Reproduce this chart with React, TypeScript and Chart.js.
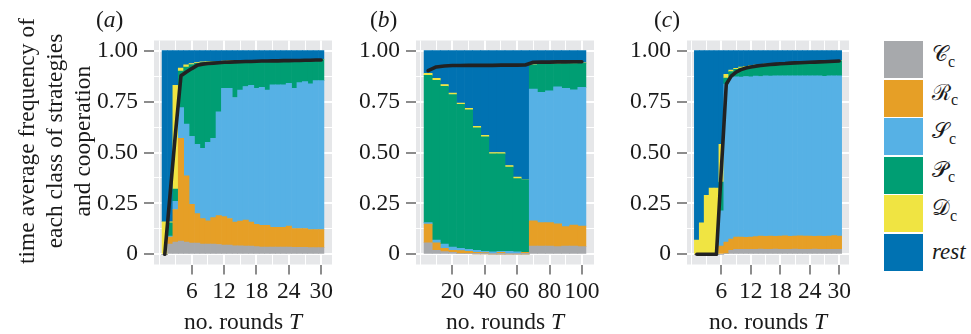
import React, { useEffect, useRef } from "react";
import { Chart, registerables } from "chart.js";

Chart.register(...registerables);

const SERIF = "'Liberation Serif', 'Times New Roman', Times, serif";

// ---------------- data ----------------
// series order (bottom -> top): C_c, R_c, S_c, P_c, D_c, rest
const SERIES_NAMES = ["Cc", "Rc", "Sc", "Pc", "Dc", "rest"];
const SERIES_COLORS = ["#A7A9AC", "#E69F26", "#56B1E5", "#009E73", "#F0E442", "#0072B2"];

// y axis ticks
const Y_TICKS = [0, 0.25, 0.5, 0.75, 1];
const Y_TICK_LABELS = ["0", "0.25", "0.50", "0.75", "1.00"];
const Y_MINOR = [0.125, 0.375, 0.625, 0.875];

// ---- panel (a) ----
const roundsA = [1, 2, 3, 4, 5, 6, 7, 8, 9, 10, 11, 12, 13, 14, 15, 16, 17, 18, 19, 20, 21, 22, 23, 24, 25, 26, 27, 28, 29, 30];
const cA = [0, 0.05, 0.06, 0.065, 0.06, 0.055, 0.055, 0.05, 0.05, 0.05, 0.048, 0.045, 0.045, 0.042, 0.042, 0.04, 0.04, 0.038, 0.036, 0.036, 0.035, 0.035, 0.035, 0.035, 0.034, 0.034, 0.034, 0.033, 0.033, 0.033];
const rA = [0, 0.035, 0.16, 0.505, 0.325, 0.19, 0.145, 0.125, 0.115, 0.13, 0.142, 0.14, 0.131, 0.116, 0.121, 0.128, 0.118, 0.109, 0.106, 0.106, 0.097, 0.097, 0.097, 0.104, 0.093, 0.093, 0.093, 0.089, 0.089, 0.089];
const sA = [0, 0.005, 0.04, 0.15, 0.255, 0.335, 0.34, 0.345, 0.385, 0.39, 0.51, 0.63, 0.639, 0.612, 0.644, 0.656, 0.672, 0.668, 0.678, 0.665, 0.7, 0.7, 0.7, 0.701, 0.688, 0.716, 0.721, 0.715, 0.731, 0.731];
const pA = [0, 0.065, 0.06, 0.18, 0.28, 0.352, 0.398, 0.422, 0.394, 0.375, 0.246, 0.132, 0.133, 0.178, 0.142, 0.126, 0.12, 0.135, 0.131, 0.144, 0.12, 0.12, 0.12, 0.113, 0.138, 0.111, 0.106, 0.118, 0.102, 0.103];
const dA = [0.16, 0.005, 0.51, 0.015, 0.01, 0.005, 0.004, 0.003, 0.002, 0.002, 0.002, 0.002, 0.002, 0.002, 0.001, 0.001, 0.001, 0.001, 0.001, 0.001, 0.001, 0.001, 0.001, 0.001, 0.001, 0.001, 0.001, 0.001, 0.001, 0.001];
const restA = [0.84, 0.84, 0.17, 0.085, 0.07, 0.063, 0.058, 0.055, 0.054, 0.053, 0.052, 0.051, 0.05, 0.05, 0.05, 0.049, 0.049, 0.049, 0.048, 0.048, 0.047, 0.047, 0.047, 0.046, 0.046, 0.045, 0.045, 0.044, 0.044, 0.043];
const coopA = [0, 0.3, 0.6, 0.877, 0.895, 0.912, 0.928, 0.934, 0.937, 0.939, 0.941, 0.943, 0.944, 0.945, 0.946, 0.947, 0.947, 0.948, 0.949, 0.949, 0.95, 0.95, 0.951, 0.951, 0.952, 0.952, 0.953, 0.953, 0.954, 0.954];
const xMajorA = [6, 12, 18, 24, 30];
const xMinorA = [0, 3, 9, 15, 21, 27];

// ---- panel (b) ----
const roundsB = [5, 10, 15, 20, 25, 30, 35, 40, 45, 50, 55, 60, 65, 70, 75, 80, 85, 90, 95, 100];
const cB = [0.057, 0.02, 0.013, 0.01, 0.005, 0.005, 0.002, 0.002, 0.001, 0.001, 0.001, 0.001, 0.001, 0.041, 0.04, 0.04, 0.038, 0.04, 0.04, 0.038];
const rB = [0.091, 0.037, 0.017, 0.01, 0.013, 0.01, 0.008, 0.006, 0.004, 0.009, 0.004, 0.002, 0.009, 0.123, 0.116, 0.116, 0.112, 0.096, 0.104, 0.101];
const sB = [0.008, 0.013, 0.02, 0.015, 0.012, 0.01, 0.01, 0.007, 0.007, 0.005, 0.01, 0.009, 0, 0.647, 0.639, 0.647, 0.673, 0.679, 0.664, 0.681];
const pB = [0.723, 0.784, 0.775, 0.75, 0.706, 0.685, 0.601, 0.562, 0.481, 0.478, 0.414, 0.36, 0.356, 0.12, 0.139, 0.132, 0.113, 0.122, 0.129, 0.118];
const dB = [0.01, 0.01, 0.009, 0.007, 0.007, 0.007, 0.007, 0.007, 0.007, 0.007, 0.007, 0.007, 0, 0.001, 0.001, 0.001, 0.001, 0.001, 0.001, 0.002];
const restB = [0.111, 0.136, 0.166, 0.208, 0.257, 0.283, 0.372, 0.416, 0.5, 0.5, 0.564, 0.621, 0.634, 0.068, 0.065, 0.064, 0.063, 0.062, 0.062, 0.06];
const coopB = [0.902, 0.92, 0.925, 0.927, 0.927, 0.928, 0.928, 0.928, 0.928, 0.929, 0.929, 0.929, 0.93, 0.943, 0.944, 0.944, 0.945, 0.945, 0.946, 0.946];
const xMajorB = [20, 40, 60, 80, 100];
const xMinorB = [0, 10, 30, 50, 70, 90];

// ---- panel (c) ----
const roundsC = [1, 2, 3, 4, 5, 6, 7, 8, 9, 10, 11, 12, 13, 14, 15, 16, 17, 18, 19, 20, 21, 22, 23, 24, 25, 26, 27, 28, 29, 30];
const cC = [0, 0, 0, 0, 0, 0, 0.005, 0.02, 0.024, 0.025, 0.025, 0.025, 0.025, 0.026, 0.025, 0.025, 0.026, 0.025, 0.025, 0.025, 0.026, 0.025, 0.025, 0.025, 0.026, 0.025, 0.025, 0.025, 0.025, 0.025];
const rC = [0, 0, 0, 0, 0, 0.04, 0.055, 0.055, 0.061, 0.06, 0.058, 0.06, 0.062, 0.064, 0.063, 0.065, 0.062, 0.065, 0.066, 0.063, 0.064, 0.066, 0.064, 0.065, 0.062, 0.065, 0.063, 0.065, 0.067, 0.065];
const sC = [0, 0, 0, 0, 0, 0.174, 0.776, 0.793, 0.787, 0.785, 0.79, 0.787, 0.788, 0.783, 0.788, 0.785, 0.789, 0.786, 0.786, 0.789, 0.787, 0.785, 0.788, 0.787, 0.788, 0.787, 0.786, 0.787, 0.785, 0.786];
const pC = [0, 0, 0, 0, 0, 0.141, 0.03, 0.029, 0.036, 0.045, 0.047, 0.052, 0.052, 0.057, 0.056, 0.059, 0.058, 0.061, 0.061, 0.063, 0.064, 0.066, 0.066, 0.067, 0.069, 0.069, 0.073, 0.071, 0.071, 0.073];
const dC = [0.07, 0.155, 0.29, 0.325, 0.325, 0.185, 0.018, 0.008, 0.005, 0.004, 0.003, 0.003, 0.002, 0.002, 0.002, 0.002, 0.002, 0.002, 0.001, 0.001, 0.001, 0.001, 0.001, 0.001, 0.001, 0.001, 0.001, 0.001, 0.001, 0.001];
const restC = [0.93, 0.845, 0.71, 0.675, 0.675, 0.46, 0.116, 0.095, 0.087, 0.081, 0.077, 0.073, 0.071, 0.068, 0.066, 0.064, 0.063, 0.061, 0.061, 0.059, 0.058, 0.057, 0.056, 0.055, 0.054, 0.053, 0.052, 0.051, 0.051, 0.05];
const coopC = [0, 0, 0, 0, 0, 0.42, 0.835, 0.875, 0.895, 0.907, 0.915, 0.92, 0.924, 0.927, 0.93, 0.932, 0.934, 0.936, 0.937, 0.939, 0.94, 0.941, 0.942, 0.943, 0.944, 0.945, 0.946, 0.947, 0.948, 0.949];
const xMajorC = [6, 12, 18, 24, 30];
const xMinorC = [0, 3, 9, 15, 21, 27];

// legend labels
const LEGEND_LETTERS = ["\u{1D49E}", "\u211B", "\u{1D4AE}", "\u{1D4AB}", "\u{1D49F}"];
const LEGEND_REST = "rest";

// ---------------- layout / styles ----------------
const W = 971;
const H = 334;
const FONT_SIZE = 23.5;
const PANEL_BG = "#E6E7E9";
const TICK_COLOR = "#8C8C8C";
const TEXT_COLOR = "#1A1A1A";
const LINE_COLOR = "#222222";
const PLOT_TOP = 40.5;
const PLOT_BOTTOM_PAD = 29.5;
const X_AXIS_H = 40;

type PanelCfg = {
  rounds: number[];
  series: number[][];
  coop: number[];
  xMin: number;
  xMax: number;
  xMajor: number[];
  xMinor: number[];
  canvasLeft: number;
  canvasW: number;
  yAxisW: number;
  padRight: number;
};

const PANELS: PanelCfg[] = [
  {
    rounds: roundsA, series: [cA, rA, sA, pA, dA, restA], coop: coopA,
    xMin: -1, xMax: 32, xMajor: xMajorA, xMinor: xMinorA,
    canvasLeft: 60, canvasW: 280, yAxisW: 94, padRight: 8,
  },
  {
    rounds: roundsB, series: [cB, rB, sB, pB, dB, restB], coop: coopB,
    xMin: -2.5, xMax: 107.5, xMajor: xMajorB, xMinor: xMinorB,
    canvasLeft: 340, canvasW: 272, yAxisW: 76, padRight: 18,
  },
  {
    rounds: roundsC, series: [cC, rC, sC, pC, dC, restC], coop: coopC,
    xMin: -1, xMax: 32, xMajor: xMajorC, xMinor: xMinorC,
    canvasLeft: 612, canvasW: 253, yAxisW: 75, padRight: 16,
  },
];

const panelBackground = {
  id: "panelBackground",
  beforeDraw(chart: any) {
    const { ctx, chartArea } = chart;
    ctx.save();
    ctx.fillStyle = PANEL_BG;
    ctx.fillRect(chartArea.left, chartArea.top, chartArea.right - chartArea.left, chartArea.bottom - chartArea.top);
    ctx.restore();
  },
};

function buildChart(canvas: HTMLCanvasElement, p: PanelCfg) {
  const xAll = [...p.xMinor, ...p.xMajor].sort((a, b) => a - b);
  const yAll = [...Y_MINOR, ...Y_TICKS].sort((a, b) => a - b);
  const isXMajor = (v: number) => p.xMajor.includes(v);
  const isYMajor = (v: number) => Y_TICKS.includes(v);
  const font = { family: SERIF, size: FONT_SIZE };

  const datasets: any[] = SERIES_NAMES.map((name, i) => ({
    type: "bar",
    label: name,
    data: p.rounds.map((t, j) => ({ x: t, y: p.series[i][j] })),
    backgroundColor: SERIES_COLORS[i],
    borderWidth: 0,
    barPercentage: 1,
    categoryPercentage: 1,
    stack: "classes",
    order: 2,
  }));
  datasets.push({
    type: "line",
    label: "cooperation",
    data: p.rounds.map((t, j) => ({ x: t, y: p.coop[j] })),
    borderColor: LINE_COLOR,
    borderWidth: 3.6,
    pointRadius: 0,
    pointHoverRadius: 0,
    tension: 0,
    fill: false,
    stack: "coop",
    order: 1,
    borderJoinStyle: "round",
    borderCapStyle: "round",
  });

  return new Chart(canvas, {
    type: "bar",
    data: { datasets },
    options: {
      responsive: false,
      animation: false,
      devicePixelRatio: 1,
      events: [],
      layout: { padding: { left: 0, right: p.padRight, top: PLOT_TOP, bottom: PLOT_BOTTOM_PAD } },
      plugins: { legend: { display: false }, tooltip: { enabled: false }, title: { display: false } },
      scales: {
        x: {
          type: "linear",
          min: p.xMin,
          max: p.xMax,
          stacked: true,
          offset: false,
          afterBuildTicks: (s: any) => {
            s.ticks = xAll.map((v) => ({ value: v }));
          },
          afterFit: (s: any) => {
            s.height = X_AXIS_H;
          },
          border: { display: false },
          grid: {
            offset: false,
            color: "#FFFFFF",
            lineWidth: (c: any) => (c.tick && isXMajor(c.tick.value) ? 2 : 1),
            tickColor: (c: any) => (c.tick && isXMajor(c.tick.value) ? TICK_COLOR : "rgba(0,0,0,0)"),
            tickWidth: 2,
            tickLength: 10,
          },
          ticks: {
            autoSkip: false,
            maxRotation: 0,
            minRotation: 0,
            padding: 3.5,
            color: TEXT_COLOR,
            font,
            callback: (v: any) => (isXMajor(v) ? String(v) : ""),
          },
        },
        y: {
          type: "linear",
          min: -0.05,
          max: 1.05,
          stacked: true,
          afterBuildTicks: (s: any) => {
            s.ticks = yAll.map((v) => ({ value: v }));
          },
          afterFit: (s: any) => {
            s.width = p.yAxisW;
          },
          border: { display: false },
          grid: {
            color: "#FFFFFF",
            lineWidth: (c: any) => (c.tick && isYMajor(c.tick.value) ? 2 : 1),
            tickColor: (c: any) => (c.tick && isYMajor(c.tick.value) ? TICK_COLOR : "rgba(0,0,0,0)"),
            tickWidth: 2,
            tickLength: 10,
          },
          ticks: {
            autoSkip: false,
            padding: 6,
            color: TEXT_COLOR,
            font,
            callback: (v: any) => {
              const k = Y_TICKS.indexOf(v);
              return k >= 0 ? Y_TICK_LABELS[k] : "";
            },
          },
        },
      },
    } as any,
    plugins: [panelBackground],
  } as any);
}

function PanelChart({ cfg }: { cfg: PanelCfg }) {
  const ref = useRef<HTMLCanvasElement>(null);
  useEffect(() => {
    const chart = buildChart(ref.current as HTMLCanvasElement, cfg);
    return () => chart.destroy();
  }, [cfg]);
  return (
    <canvas
      ref={ref}
      width={cfg.canvasW}
      height={H}
      style={{ position: "absolute", left: cfg.canvasLeft, top: 0, width: cfg.canvasW, height: H }}
    />
  );
}

// baseline offset for a line box of height = font size (Liberation Serif metrics)
const baseOff = (fs: number) => (fs - 1.107 * fs) / 2 + 0.891 * fs;

const textBase: React.CSSProperties = {
  position: "absolute",
  fontFamily: SERIF,
  color: TEXT_COLOR,
  whiteSpace: "nowrap",
};

function PanelLetter({ letter, left }: { letter: string; left: number }) {
  return (
    <div style={{ ...textBase, left, top: 27.5 - baseOff(FONT_SIZE), fontSize: FONT_SIZE, lineHeight: `${FONT_SIZE}px` }}>
      (<i>{letter}</i>)
    </div>
  );
}

function XTitle({ center }: { center: number }) {
  return (
    <div
      style={{
        ...textBase,
        left: center - 120,
        width: 240,
        textAlign: "center",
        top: 330 - baseOff(FONT_SIZE),
        fontSize: FONT_SIZE,
        lineHeight: `${FONT_SIZE}px`,
      }}
    >
      no. rounds <i>T</i>
    </div>
  );
}

function Legend() {
  const keyTop = 41;
  const step = 38.6;
  const keyH = 37;
  const rows = [...LEGEND_LETTERS, LEGEND_REST];
  return (
    <>
      {rows.map((lab, i) => {
        const top = keyTop + step * i;
        const center = top + keyH / 2;
        const isRest = i === rows.length - 1;
        const fs = isRest ? 23 : 22;
        const base = isRest ? center + 6.7 : center + 2;
        return (
          <React.Fragment key={i}>
            <div
              style={{ position: "absolute", left: 884, top, width: 39, height: keyH, background: SERIES_COLORS[i] }}
            />
            <div
              style={{
                ...textBase,
                left: 932,
                top: base - baseOff(fs),
                fontSize: fs,
                lineHeight: `${fs}px`,
                fontStyle: isRest ? "italic" : "normal",
              }}
            >
              {lab}
              {!isRest && (
                <span style={{ fontSize: 16, position: "relative", top: 5.6 }}>c</span>
              )}
            </div>
          </React.Fragment>
        );
      })}
    </>
  );
}

export default function App() {
  return (
    <div style={{ position: "absolute", left: 0, top: 0, width: W, height: H, background: "#FFFFFF", overflow: "hidden" }}>
      {PANELS.map((p, i) => (
        <PanelChart key={i} cfg={p} />
      ))}
      <div
        style={{
          ...textBase,
          left: 54 - 150,
          top: 141 - 42,
          width: 300,
          height: 84,
          fontSize: FONT_SIZE,
          lineHeight: "28px",
          textAlign: "center",
          transform: "rotate(-90deg)",
        }}
      >
        time average frequency of
        <br />
        each class of strategies
        <br />
        and cooperation
      </div>
      <PanelLetter letter="a" left={96} />
      <PanelLetter letter="b" left={370} />
      <PanelLetter letter="c" left={654} />
      <XTitle center={243} />
      <XTitle center={505} />
      <XTitle center={768} />
      <Legend />
    </div>
  );
}
